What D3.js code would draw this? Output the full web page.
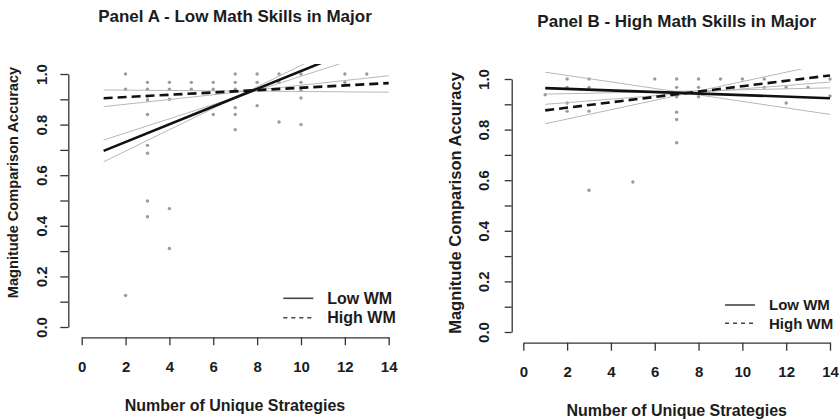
<!DOCTYPE html>
<html>
<head>
<meta charset="utf-8">
<script src="https://cdn.jsdelivr.net/npm/d3@7"></script>
<style>
  body { margin: 0; background: #fff; }
  text { font-family: "Liberation Sans", Arial, sans-serif; font-weight: bold; fill: #1c1c1c; }
</style>
</head>
<body>
<div id="chart"></div>
<script>
// ---- data ----
var xTicks = [0, 2, 4, 6, 8, 10, 12, 14];
var yTicks = [0, 0.1, 0.2, 0.3, 0.4, 0.5, 0.6, 0.7, 0.8, 0.9, 1.0];
var yLabels = ["0.0", "", "0.2", "", "0.4", "", "0.6", "", "0.8", "", "1.0"];
var seriesNames = ["Low WM", "High WM"];

// Panel A scatter (number of strategies, accuracy)
var aX = [2, 2, 2,
          3, 3, 3, 3, 3, 3, 3, 3, 3,
          4, 4, 4, 4, 4,
          5, 5,
          6, 6, 6,
          7, 7, 7, 7, 7, 7,
          8, 8, 8,
          9, 9, 9,
          10, 10, 10, 10, 10,
          12, 12,
          13];
var aY = [1.0, 0.94, 0.125,
          0.967, 0.94, 0.912, 0.897, 0.84, 0.718, 0.687, 0.498, 0.436,
          0.967, 0.94, 0.9, 0.468, 0.31,
          0.967, 0.94,
          0.967, 0.94, 0.84,
          1.0, 0.967, 0.94, 0.867, 0.84, 0.78,
          1.0, 0.967, 0.875,
          1.0, 0.967, 0.81,
          1.0, 0.967, 0.935, 0.905, 0.8,
          1.0, 0.967,
          1.0];

// Panel B scatter
var bX = [1,
          2, 2, 2, 2,
          3, 3, 3, 3,
          5,
          6,
          7, 7, 7, 7, 7, 7,
          8, 8, 8,
          9,
          10,
          11, 11,
          12, 12,
          13,
          14, 14];
var bY = [0.938,
          1.0, 0.967, 0.905, 0.873,
          1.0, 0.967, 0.873, 0.56,
          0.593,
          1.0,
          1.0, 0.967, 0.93, 0.869, 0.84, 0.748,
          1.0, 0.967, 0.93,
          1.0,
          1.0,
          1.0, 0.967,
          0.967, 0.905,
          0.967,
          1.0, 0.933];

// fitted lines: accuracy at x = 1 and x = 14
var fitX = [1, 14];
var aLowFit = [0.696, 1.152];
var aLowBand1 = [0.739, 1.103];
var aLowBand2 = [0.653, 1.203];
var aHighFit = [0.904, 0.964];
var aHighBand1 = [0.937, 0.928];
var aHighBand2 = [0.871, 0.993];

var bLowFit = [0.964, 0.924];
var bLowBand1 = [1.027, 0.86];
var bLowBand2 = [0.90, 0.988];
var bHighFit = [0.876, 1.014];
var bHighBand1 = [0.94, 0.965];
var bHighBand2 = [0.823, 1.064];

// ---- drawing ----
var svg = d3.select("#chart").append("svg")
    .attr("width", 840)
    .attr("height", 420);

var drawPanel = function(p) {
    var xScale = d3.scaleLinear().domain([0, 14]).range([p.x0, p.x14]);
    var yScale = d3.scaleLinear().domain([0, 1]).range([p.y0, p.y1]);

    var g = svg.append("g");

    g.append("clipPath").attr("id", p.id + "clip")
        .append("rect")
        .attr("x", p.yAxisX)
        .attr("y", yScale(1.04))
        .attr("width", xScale(14.56) - p.yAxisX)
        .attr("height", yScale(-0.04) - yScale(1.04));

    // points
    g.selectAll(".dot")
        .data(p.xs)
        .enter().append("circle")
        .attr("cx", function(d) { return xScale(d); })
        .attr("cy", function(d, i) { return yScale(p.ys[i]); })
        .attr("r", 1.7)
        .attr("style", "fill: #9a9a9a");

    var line = d3.line()
        .x(function(d, i) { return xScale(fitX[i]); })
        .y(function(d) { return yScale(d); });

    var lines = g.append("g").attr("clip-path", "url(#" + p.id + "clip)");

    p.bands.forEach(function(b) {
        lines.append("path")
            .datum(b)
            .attr("d", line)
            .attr("style", "fill: none; stroke: #b8b8b8; stroke-width: 1;");
    });
    lines.append("path")
        .datum(p.lowFit)
        .attr("d", line)
        .attr("style", "fill: none; stroke: #111; stroke-width: 2.6;");
    lines.append("path")
        .datum(p.highFit)
        .attr("d", line)
        .attr("style", "fill: none; stroke: #111; stroke-width: 2.6; stroke-dasharray: 9,5;");

    // x axis
    var xAxis = g.append("g")
        .attr("transform", "translate(0," + p.xAxisY + ")")
        .call(d3.axisBottom(xScale).tickValues(xTicks).tickSize(8).tickSizeOuter(0));
    xAxis.select(".domain").attr("stroke", "#333").attr("stroke-width", 1.3);
    xAxis.selectAll(".tick line").attr("stroke", "#333").attr("stroke-width", 1.3);
    xAxis.selectAll(".tick text")
        .attr("y", p.xLabelOff)
        .attr("dy", null)
        .attr("fill", null)
        .style("font-size", p.tickFont + "px");

    // y axis
    var yAxis = g.append("g")
        .attr("transform", "translate(" + p.yAxisX + ",0)")
        .call(d3.axisLeft(yScale).tickValues(yTicks).tickSize(p.yTickLen).tickSizeOuter(0)
            .tickFormat(function(d, i) { return yLabels[i]; }));
    yAxis.select(".domain").attr("stroke", "#333").attr("stroke-width", 1.3);
    yAxis.selectAll(".tick line").attr("stroke", "#333").attr("stroke-width", 1.3);
    yAxis.selectAll(".tick text")
        .attr("transform", "rotate(-90)")
        .attr("x", 0)
        .attr("y", -p.yLabelOff)
        .attr("dy", null)
        .attr("fill", null)
        .attr("text-anchor", "middle")
        .style("font-size", p.tickFont + "px");

    // titles
    g.append("text")
        .attr("x", p.titleX).attr("y", p.titleY)
        .attr("text-anchor", "middle")
        .style("font-size", "17px")
        .text(p.title);

    g.append("text")
        .attr("x", p.titleX).attr("y", p.xTitleY)
        .attr("text-anchor", "middle")
        .style("font-size", "16px")
        .text("Number of Unique Strategies");

    g.append("text")
        .attr("transform", "translate(" + p.yTitleX + "," + p.yTitleY + ") rotate(-90)")
        .attr("text-anchor", "middle")
        .attr("dy", "0.35em")
        .style("font-size", p.yTitleFont + "px")
        .text("Magnitude Comparison Accuracy");

    // legend
    seriesNames.forEach(function(name, i) {
        var ly = p.legY[i];
        g.append("line")
            .attr("x1", p.legX).attr("x2", p.legX + 30)
            .attr("y1", ly).attr("y2", ly)
            .attr("style", "stroke: #444; stroke-width: 1.6;" + (i == 1 ? " stroke-dasharray: 4,4;" : ""));
        g.append("text")
            .attr("x", p.legX + 44).attr("y", ly)
            .attr("dy", "0.36em")
            .style("font-size", p.legFont + "px")
            .text(name);
    });
};

drawPanel({
    id: "a", title: "Panel A - Low Math Skills in Major",
    xs: aX, ys: aY,
    lowFit: aLowFit, highFit: aHighFit,
    bands: [aLowBand1, aLowBand2, aHighBand1, aHighBand2],
    x0: 81.7, x14: 388.7, y0: 327, y1: 74,
    xAxisY: 337.3, yAxisX: 68.3, yTickLen: 8,
    xLabelOff: 34.7, yLabelOff: 20.9, tickFont: 15,
    titleX: 235, titleY: 21.7, xTitleY: 410.6,
    yTitleX: 13.3, yTitleY: 182.5, yTitleFont: 14.6,
    legX: 283.3, legY: [298.3, 317.7], legFont: 16
});

drawPanel({
    id: "b", title: "Panel B - High Math Skills in Major",
    xs: bX, ys: bY,
    lowFit: bLowFit, highFit: bHighFit,
    bands: [bLowBand1, bLowBand2, bHighBand1, bHighBand2],
    x0: 523.3, x14: 830, y0: 332, y1: 79,
    xAxisY: 342.7, yAxisX: 511.7, yTickLen: 7,
    xLabelOff: 34.4, yLabelOff: 23, tickFont: 15,
    titleX: 676.7, titleY: 26.7, xTitleY: 415.6,
    yTitleX: 455, yTitleY: 203, yTitleFont: 16.5,
    legX: 725, legY: [305, 323.3], legFont: 15
});
</script>
</body>
</html>
